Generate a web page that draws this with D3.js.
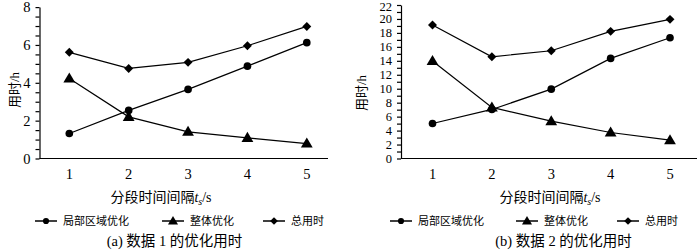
<!DOCTYPE html>
<html>
<head>
<meta charset="utf-8">
<script src="https://cdn.jsdelivr.net/npm/d3@7"></script>
<style>
  body { margin: 0; background: #fff; }
  svg { display: block; }
  text { fill: #000; }
</style>
</head>
<body>
<div id="chart"></div>
<script>
// data
const intervals = [1, 2, 3, 4, 5];
const seriesNames = ["局部区域优化", "整体优化", "总用时"];
const local1 = [1.32, 2.54, 3.65, 4.88, 6.12];
const whole1 = [4.23, 2.2, 1.41, 1.09, 0.79];
const total1 = [5.61, 4.76, 5.08, 5.96, 6.98];
const local2 = [5.02, 7.03, 9.94, 14.35, 17.3];
const whole2 = [13.96, 7.32, 5.35, 3.73, 2.63];
const total2 = [19.12, 14.58, 15.44, 18.22, 19.94];
const yTicks1 = [0, 2, 4, 6, 8];
const yTicks2 = [0, 2, 4, 6, 8, 10, 12, 14, 16, 18, 20, 22];
const captions = ["(a) 数据 1 的优化用时", "(b) 数据 2 的优化用时"];

const W = 700, H = 252;
const numFont = "'Liberation Serif', 'Times New Roman', serif";
const cjkFont = "'Liberation Serif', 'Noto Sans CJK SC', serif";

const svg = d3.select("#chart").append("svg")
    .attr("width", W)
    .attr("height", H);

// custom marker shapes
const diamond = {
    draw(ctx, size) {
        const r = Math.sqrt(size / 2);
        ctx.moveTo(0, -r); ctx.lineTo(r, 0); ctx.lineTo(0, r); ctx.lineTo(-r, 0); ctx.closePath();
    }
};
const triangle = {
    draw(ctx, size) {
        const w = Math.sqrt(size * 2.4) / 2, h = w * 1.7;
        ctx.moveTo(0, -h * 0.6); ctx.lineTo(w, h * 0.4); ctx.lineTo(-w, h * 0.4); ctx.closePath();
    }
};
const shapes = [d3.symbolCircle, triangle, diamond];
const markSizes = [46, 58, 40];
const legendSizes = [30, 42, 30];

const panels = [
    {axisX: 39.5, axisEnd: 328, x1: 69.3, x5: 306.8, yMax: 8, yTop: 7.1, minor: 0.5, ticks: yTicks1,
     tickFont: 14.5, series: [local1, whole1, total1], yLabelX: 14, yLabelY: 90,
     titleX: 161, legendX: [35, 162, 263], captionX: 174.5},
    {axisX: 401, axisEnd: 697, x1: 432.5, x5: 670, yMax: 22, yTop: 5, minor: 1, ticks: yTicks2,
     tickFont: 12.5, series: [local2, whole2, total2], yLabelX: 361, yLabelY: 93,
     titleX: 550, legendX: [390, 516, 617], captionX: 563.5}
];

const yBottom = 158.5;

panels.forEach((p, pi) => {
    const g = svg.append("g");
    const y = d3.scaleLinear().domain([0, p.yMax]).range([yBottom, p.yTop]);
    const x = d3.scalePoint().domain(intervals).range([p.x1, p.x5]);

    // y axis with minor ticks, labels on major ones
    const yAxis = d3.axisLeft(y)
        .tickValues(d3.range(0, p.yMax + p.minor / 2, p.minor))
        .tickSize(4)
        .tickSizeOuter(0)
        .tickPadding(5)
        .tickFormat(d => p.ticks.includes(d) ? d : "");
    const ya = g.append("g")
        .attr("transform", `translate(${p.axisX},0)`)
        .call(yAxis);
    ya.selectAll("path, line").attr("stroke", "#000").attr("stroke-width", 1.2);
    ya.selectAll("text")
        .style("font-family", numFont)
        .style("font-size", p.tickFont + "px")
        .attr("fill", "#000");
    // keep the top label inside the picture
    ya.selectAll("text").filter(d => d === p.yMax && p.yTop < 7).attr("dy", "0.4em");

    // x axis line
    g.append("line")
        .attr("x1", p.axisX).attr("x2", p.axisEnd)
        .attr("y1", yBottom).attr("y2", yBottom)
        .attr("stroke", "#000").attr("stroke-width", 1.2);

    g.selectAll(".xlab")
        .data(intervals)
        .enter().append("text")
        .attr("x", d => x(d))
        .attr("y", 179)
        .attr("text-anchor", "middle")
        .style("font-family", numFont)
        .style("font-size", "14.5px")
        .text(d => d);

    // axis titles
    const xt = g.append("text")
        .attr("x", p.titleX)
        .attr("y", 201.5)
        .attr("text-anchor", "middle")
        .style("font-family", cjkFont)
        .style("font-size", "14px");
    xt.append("tspan").text("分段时间间隔");
    xt.append("tspan").style("font-style", "italic").text("t");
    xt.append("tspan").attr("dy", 3).style("font-size", "10px").style("font-style", "italic").text("s");
    xt.append("tspan").attr("dy", -3).text("/s");

    g.append("text")
        .attr("transform", `translate(${p.yLabelX},${p.yLabelY}) rotate(-90)`)
        .attr("text-anchor", "middle")
        .attr("dy", "0.35em")
        .style("font-family", cjkFont)
        .style("font-size", "13px")
        .text("用时/h");

    // series lines and markers
    p.series.forEach((vals, si) => {
        const pts = intervals.map((t, i) => [x(t), y(vals[i])]);
        g.append("path")
            .attr("d", d3.line()(pts))
            .attr("fill", "none")
            .attr("stroke", "#000")
            .attr("stroke-width", 1.2);
        g.selectAll(".m" + si)
            .data(pts)
            .enter().append("path")
            .attr("transform", d => `translate(${d[0]},${d[1]})`)
            .attr("d", d3.symbol().type(shapes[si]).size(markSizes[si]))
            .attr("fill", "#000");
    });

    // legend
    seriesNames.forEach((name, si) => {
        const lx = p.legendX[si];
        const lg = g.append("g").attr("transform", `translate(${lx},221)`);
        lg.append("line").attr("x1", 0).attr("x2", 22).attr("stroke", "#000").attr("stroke-width", 1.5);
        lg.append("path")
            .attr("transform", "translate(11,0)")
            .attr("d", d3.symbol().type(shapes[si]).size(legendSizes[si]))
            .attr("fill", "#000");
        lg.append("text")
            .attr("x", 28)
            .attr("dy", "0.38em")
            .style("font-family", cjkFont)
            .style("font-size", "11px")
            .text(name);
    });

    g.append("text")
        .attr("x", p.captionX)
        .attr("y", 246)
        .attr("text-anchor", "middle")
        .style("font-family", cjkFont)
        .style("font-size", "14.5px")
        .text(captions[pi]);
});
</script>
</body>
</html>
